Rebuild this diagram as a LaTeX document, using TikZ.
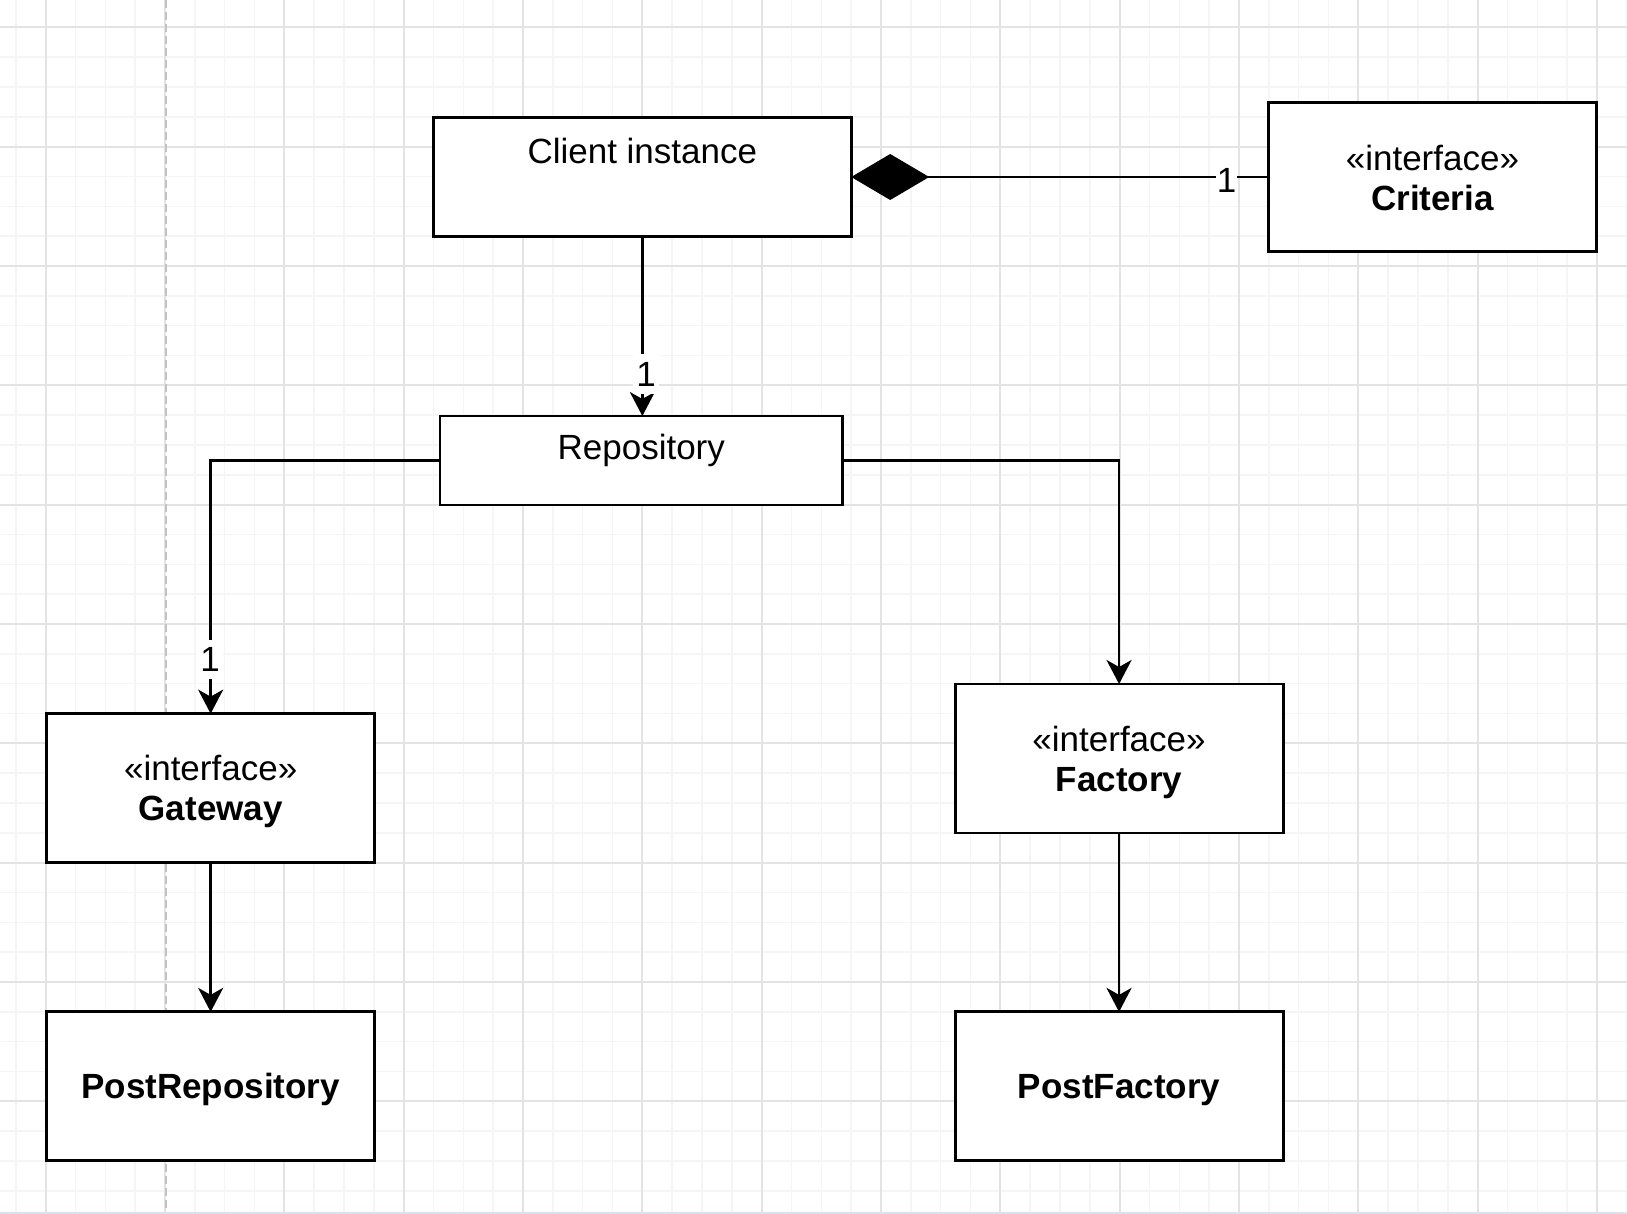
\documentclass[tikz,border=0pt]{standalone}
\usepackage{fontspec}
\setmainfont{Liberation Sans}
\usetikzlibrary{arrows.meta}
\definecolor{gridminor}{HTML}{F5F5F5}
\definecolor{gridmajor}{HTML}{E3E3E3}
\definecolor{pagebreak}{HTML}{C2C2C2}
\definecolor{edgeline}{HTML}{DCE2E8}
\begin{document}
\begin{tikzpicture}[x=1pt,y=-1pt,
  box/.style={draw=black, line width=2.9pt, fill=white, rectangle, inner sep=0pt, outer sep=0pt},
  umlbox/.style={box, minimum width=328pt, minimum height=149pt},
  txt/.style={font=\fontsize{35}{40}\selectfont, inner sep=0pt, anchor=base},
  btxt/.style={txt, font=\fontsize{35}{40}\selectfont\bfseries},
  lbl/.style={font=\fontsize{35}{40}\selectfont, fill=white, inner xsep=3.5pt, inner ysep=7pt, text height=25pt, text depth=0pt},
  conn/.style={line width=2.8pt, draw=black},
  arr/.style={conn, -{Stealth[length=24pt, width=25pt, inset=7pt]}},
]
\useasboundingbox (0,0) rectangle (1627,1214);
\fill[white] (0,0) rectangle (1627,1214);
% grid
\foreach \i in {0,...,54} {\draw[gridminor, line width=1.5pt] ({15.9+29.833*\i},0) -- ({15.9+29.833*\i},1214);}
\foreach \i in {1,...,40} {\draw[gridminor, line width=1.5pt] (0,{-2.5+29.833*\i}) -- (1627,{-2.5+29.833*\i});}
\foreach \i in {0,...,13} {\draw[gridmajor, line width=1.8pt] ({45.7+119.33*\i},0) -- ({45.7+119.33*\i},1214);}
\foreach \i in {0,...,9} {\draw[gridmajor, line width=1.8pt] (0,{27.3+119.33*\i}) -- (1627,{27.3+119.33*\i});}
\draw[pagebreak, line width=2pt, dash pattern=on 8pt off 4pt] (166,0) -- (166,1214);
\draw[edgeline, line width=2pt] (0,1213) -- (1627,1213);

% boxes
\node[box, minimum width=417.7pt, minimum height=119.4pt] (client) at (642.35,177) {};
\node[umlbox] (crit) at (1432.4,177.35) {};
\node[box, minimum width=402.5pt, minimum height=89pt] (rep) at (641.25,460.5) {};
\node[umlbox] (gw) at (210.65,788.15) {};
\node[umlbox] (fac) at (1119.05,758.5) {};
\node[umlbox] (prep) at (210.65,1086.4) {};
\node[umlbox] (pfac) at (1119.05,1086.4) {};

% texts
\node[txt] (clientT) at ([yshift=-46pt]client.north) {Client instance};
\node[txt] (repT) at ([yshift=-43pt]rep.north) {Repository};
\node[txt] (critS) at ([yshift=7.3pt]crit.center) {«interface»};
\node[btxt] (critT) at ([yshift=-32.7pt]crit.center) {Criteria};
\node[txt] (gwS) at ([yshift=7.3pt]gw.center) {«interface»};
\node[btxt] (gwT) at ([yshift=-32.7pt]gw.center) {Gateway};
\node[txt] (facS) at ([yshift=7.3pt]fac.center) {«interface»};
\node[btxt] (facT) at ([yshift=-32.7pt]fac.center) {Factory};
\node[btxt] (prepT) at ([yshift=-12.5pt]prep.center) {PostRepository};
\node[btxt] (pfacT) at ([yshift=-12.5pt]pfac.center) {PostFactory};

% connectors
\draw[conn, {Diamond[length=78pt, width=46pt]}-] (client.east) -- (client.east -| crit.west);
\draw[arr] (client.south) -- (client.south |- rep.north);
\draw[arr] (rep.west) -| (gw.north);
\draw[arr] (rep.east) -| (fac.north);
\draw[arr] (gw.south) -- (prep.north);
\draw[arr] (fac.south) -- (pfac.north);

% multiplicity labels
\node[lbl, inner xsep=0.3pt] (l1) at (1226.5,180.5) {1};
\node[lbl] (l2) at (646,374) {1};
\node[lbl] (l3) at (210,659) {1};
\end{tikzpicture}
\end{document}
